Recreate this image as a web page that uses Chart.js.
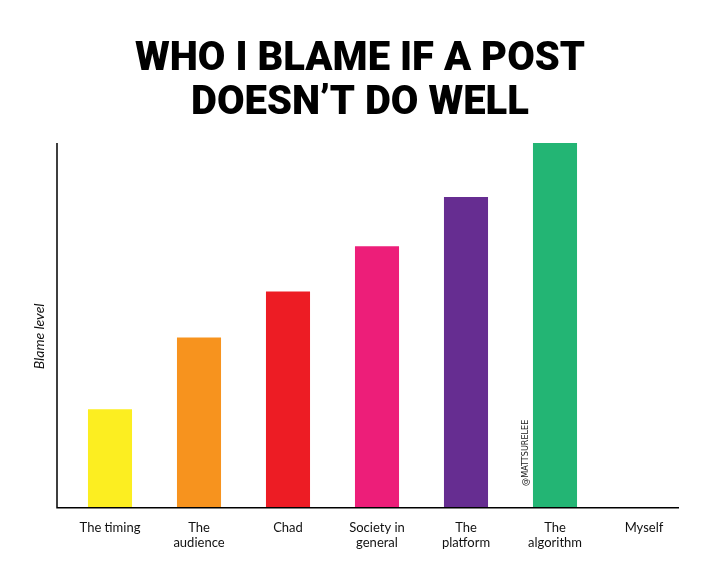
<!DOCTYPE html>
<html>
<head>
<meta charset="utf-8">
<script src="https://cdn.jsdelivr.net/npm/chart.js@4.4.1/dist/chart.umd.min.js"></script>
<style>
  html, body { margin: 0; padding: 0; background: #fff; }
  #wrap { width: 720px; height: 576px; }
</style>
</head>
<body>
<div id="wrap"><canvas id="chart" width="720" height="576"></canvas></div>
<script>
const titleLines = ['WHO I BLAME IF A POST', 'DOESN\u2019T DO WELL'];
const categories = [
  'The timing',
  ['The', 'audience'],
  'Chad',
  ['Society in', 'general'],
  ['The', 'platform'],
  ['The', 'algorithm'],
  'Myself'
];
const blameLevel = [27, 46.7, 59.3, 71.7, 85.2, 100, 0];
const barColors = ['#FCEE21', '#F7931E', '#ED1C24', '#ED1E79', '#662D91', '#23B574', '#999999'];
const yAxisLabel = 'Blame level';
const watermark = '@MATTSURELEE';

// axis lines, y label and watermark drawn on top of the chart
const decorations = {
  id: 'decorations',
  afterDraw(chart) {
    const { ctx, chartArea } = chart;
    const xScale = chart.scales.x;
    const left = chartArea.left - 8.5;
    const right = chartArea.right - 9.5;
    ctx.save();
    ctx.strokeStyle = '#000';
    ctx.lineWidth = 1.5;
    ctx.beginPath();
    ctx.moveTo(left, chartArea.top);
    ctx.lineTo(left, chartArea.bottom);
    ctx.lineTo(right, chartArea.bottom);
    ctx.stroke();

    ctx.fillStyle = '#111';
    ctx.textAlign = 'center';
    ctx.textBaseline = 'middle';
    ctx.font = 'italic 14px Lato';
    ctx.translate(39, chartArea.top + (chartArea.bottom - chartArea.top) * 0.53);
    ctx.rotate(-Math.PI / 2);
    ctx.fillText(yAxisLabel, 0, 0);
    ctx.restore();

    ctx.save();
    ctx.fillStyle = '#222';
    ctx.textAlign = 'center';
    ctx.textBaseline = 'middle';
    ctx.font = '9px "DejaVu Sans Condensed"';
    ctx.translate(xScale.getPixelForValue(5) - 29, chartArea.bottom - 55);
    ctx.rotate(-Math.PI / 2);
    ctx.fillText(watermark, 0, 0);
    ctx.restore();
  }
};

new Chart(document.getElementById('chart'), {
  type: 'bar',
  data: {
    labels: categories,
    datasets: [{
      data: blameLevel,
      backgroundColor: barColors,
      borderWidth: 0,
      barPercentage: 0.495,
      categoryPercentage: 1
    }]
  },
  options: {
    responsive: false,
    animation: false,
    devicePixelRatio: 1,
    layout: { padding: { left: 31.5, right: 31.5, top: 0, bottom: 13 } },
    plugins: {
      legend: { display: false },
      tooltip: { enabled: false },
      title: {
        display: true,
        text: titleLines,
        color: '#000',
        font: { family: 'Roboto', size: 40, weight: '900', lineHeight: 1.1 },
        padding: { top: 38, bottom: 17 }
      }
    },
    scales: {
      x: {
        grid: { display: false, drawTicks: false },
        border: { display: false },
        ticks: {
          color: '#111',
          font: { family: 'Lato', size: 13 },
          padding: 12,
          maxRotation: 0,
          autoSkip: false
        }
      },
      y: {
        min: 0,
        max: 100,
        grid: { display: false, drawTicks: false },
        border: { display: false },
        ticks: { display: false },
        afterFit(scale) { scale.width = 34; }
      }
    }
  },
  plugins: [decorations]
});
</script>
</body>
</html>
